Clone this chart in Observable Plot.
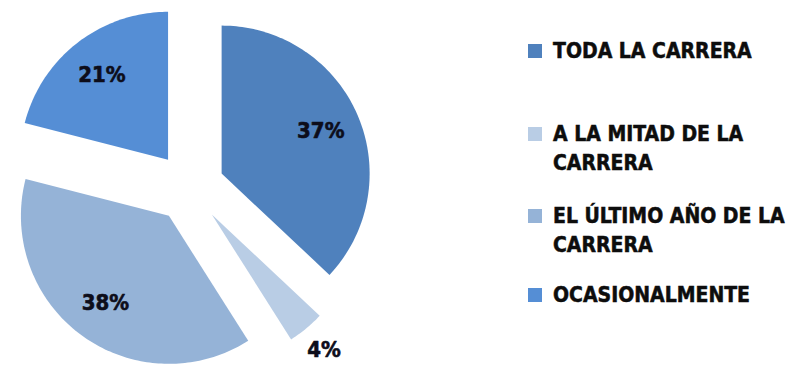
<!DOCTYPE html>
<html><head><meta charset="utf-8">
<script src="https://cdn.jsdelivr.net/npm/d3@7"></script>
<script src="https://cdn.jsdelivr.net/npm/@observablehq/plot@0.6"></script>
<style>
body{margin:0;background:#fff;}
#wrap{position:relative;width:805px;height:368px;overflow:hidden;font-family:"DejaVu Sans Condensed","DejaVu Sans",sans-serif;font-stretch:condensed;}
#chart{position:absolute;left:0;top:0;}
#legend{position:absolute;left:528px;top:36.5px;width:277px;}
.item{position:absolute;left:0;display:flex;align-items:flex-start;font-weight:bold;font-size:21px;line-height:29px;color:#0d0d0d;white-space:normal;-webkit-text-stroke:0.5px #0d0d0d;}
.sw{width:14px;height:14px;flex:none;margin-top:7px;margin-right:11px;}
.lbl{width:252px;}
</style></head>
<body>
<div id="wrap"><div id="chart"></div><div id="legend"></div></div>
<script>
const categories = ["TODA LA CARRERA", "A LA MITAD DE LA CARRERA", "EL ÚLTIMO AÑO DE LA CARRERA", "OCASIONALMENTE"];
const values = [37, 4, 38, 21];
const colors = ["#4f81bd", "#b9cde5", "#95b3d7", "#558ed5"];

// layout constants (pixels)
const W = 400, H = 368, R = 148, CX = 189, CY = 187;
const EXPLODE = 35 / R;
const legendTops = [0, 83, 165, 244];

const arcs = d3.pie().sort(null).startAngle(0).endAngle(2 * Math.PI)(values);
const pts = [];
const labels = [];
arcs.forEach((a, i) => {
  const cat = categories[i];
  const mid = (a.startAngle + a.endAngle) / 2;
  const ox = EXPLODE * Math.sin(mid), oy = EXPLODE * Math.cos(mid);
  pts.push({cat, x: ox, y: oy});
  const n = Math.max(2, Math.ceil((a.endAngle - a.startAngle) / 0.02));
  for (let k = 0; k <= n; k++) {
    const t = a.startAngle + (a.endAngle - a.startAngle) * k / n;
    pts.push({cat, x: ox + Math.sin(t), y: oy + Math.cos(t)});
  }
  const r = values[i] < 10 ? 1.19 : 0.73;
  labels.push({x: ox + r * Math.sin(mid), y: oy + r * Math.cos(mid), text: values[i] + "%"});
});

const chart = Plot.plot({
  width: W, height: H, margin: 0,
  style: {background: "transparent"},
  x: {domain: [-CX / R, (W - CX) / R], axis: null},
  y: {domain: [-(H - CY) / R, CY / R], axis: null},
  color: {domain: categories, range: colors},
  marks: [
    Plot.line(pts, {x: "x", y: "y", z: "cat", fill: "cat", stroke: "none", curve: "linear-closed"}),
    Plot.text(labels, {x: "x", y: "y", text: "text", fontSize: 22, fontWeight: "bold", fill: "#0d0d1a",
      stroke: "#0d0d1a", strokeWidth: 0.6,
      fontFamily: "'DejaVu Sans Condensed','DejaVu Sans',sans-serif"})
  ]
});
document.getElementById("chart").appendChild(chart);

const legend = document.getElementById("legend");
categories.forEach((c, i) => {
  const item = document.createElement("div");
  item.className = "item";
  item.style.top = legendTops[i] + "px";
  const sw = document.createElement("span");
  sw.className = "sw";
  sw.style.background = colors[i];
  const lb = document.createElement("span");
  lb.className = "lbl";
  lb.textContent = c;
  item.appendChild(sw);
  item.appendChild(lb);
  legend.appendChild(item);
});
</script>
</body></html>
